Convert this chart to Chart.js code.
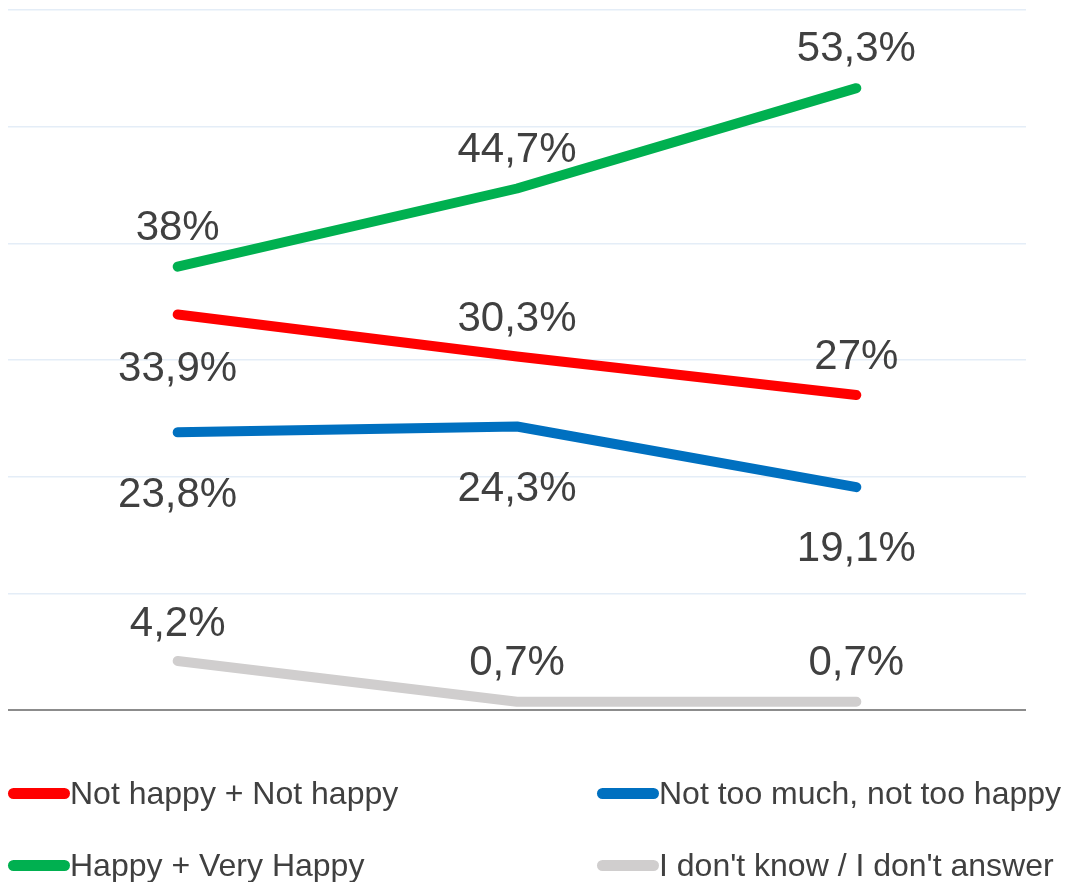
<!DOCTYPE html>
<html>
<head>
<meta charset="utf-8">
<script src="https://cdn.jsdelivr.net/npm/chart.js@4.4.1/dist/chart.umd.min.js"></script>
<style>
  html, body { margin: 0; padding: 0; background: #fff; }
  #wrap { position: relative; width: 1066px; height: 882px; }
  #legend { position: absolute; left: 0; top: 0; width: 1066px; height: 882px; pointer-events: none; }
  .item { position: absolute; display: flex; align-items: center; font-family: "Liberation Sans", Arial, sans-serif; font-size: 32px; color: #404040; white-space: nowrap; }
  .mark { width: 62px; height: 11px; border-radius: 6px; }
</style>
</head>
<body>
<div id="wrap">
  <canvas id="chart" width="1066" height="882"></canvas>
  <div id="legend"></div>
</div>
<script>
// –≤–∏—Ç—Ä–∏–Ω–∞ –¥–∞–Ω–Ω—ã—Ö
const categories = ['1', '2', '3'];
const seriesNames = ['Not happy + Not happy', 'Happy + Very Happy', 'Not too much, not too happy', "I don't know / I don't answer"];
const notHappy = [33.9, 30.3, 27];
const happy = [38, 44.7, 53.3];
const notTooMuch = [23.8, 24.3, 19.1];
const dontKnow = [4.2, 0.7, 0.7];
const yTicks = [0, 10, 20, 30, 40, 50, 60];

const colors = ['#ff0000', '#00b050', '#0070c0', '#d0cece'];
const fmt = v => String(v).replace('.', ',') + '%';

// –ø–æ–¥–ø–∏—Å–∏ –∑–Ω–∞—á–µ–Ω–∏–π
const valueLabels = {
  id: 'valueLabels',
  afterDatasetsDraw(chart) {
    const ctx = chart.ctx;
    ctx.save();
    ctx.font = '42px "Liberation Sans", Arial, sans-serif';
    ctx.fillStyle = '#404040';
    ctx.textAlign = 'center';
    ctx.textBaseline = 'middle';
    chart.data.datasets.forEach((ds, i) => {
      chart.getDatasetMeta(i).data.forEach((pt, j) => {
        ctx.fillText(fmt(ds.data[j]), pt.x, pt.y + ds.labelOffset[j]);
      });
    });
    ctx.restore();
  }
};

const mk = (idx, data, offs) => ({
  label: seriesNames[idx],
  data: data,
  borderColor: colors[idx],
  backgroundColor: colors[idx],
  borderWidth: 10,
  borderCapStyle: 'round',
  borderJoinStyle: 'round',
  pointRadius: 0,
  tension: 0,
  fill: false,
  clip: false,
  labelOffset: offs
});

new Chart(document.getElementById('chart').getContext('2d'), {
  type: 'line',
  data: {
    labels: categories,
    datasets: [
      mk(3, dontKnow, [-37, -38, -38]),
      mk(2, notTooMuch, [63, 63, 62]),
      mk(0, notHappy, [55, -37, -38]),
      mk(1, happy, [-38, -38, -39])
    ]
  },
  options: {
    responsive: false,
    animation: false,
    layout: { padding: { left: 8, right: 40, top: 10, bottom: 172 } },
    plugins: { legend: { display: false }, tooltip: { enabled: false } },
    scales: {
      x: { display: false, offset: true },
      y: {
        min: 0, max: 60,
        afterBuildTicks: axis => { axis.ticks = yTicks.map(v => ({ value: v })); },
        border: { display: false },
        ticks: { display: false },
        grid: {
          drawTicks: false,
          lineWidth: ctx => ctx.tick && ctx.tick.value === 0 ? 2 : 1.5,
          color: ctx => ctx.tick && ctx.tick.value === 0 ? '#8c8c8c' : '#e4edf7'
        }
      }
    }
  },
  plugins: [valueLabels]
});

// –ª–µ–≥–µ–Ω–¥–∞ –≤ –¥–≤–µ –∫–æ–ª–æ–Ω–∫–∏
const legendPos = [[8, 793], [597, 793], [8, 865], [597, 865]];
const legendOrder = [0, 2, 1, 3];
const legend = document.getElementById('legend');
legendOrder.forEach((s, k) => {
  const el = document.createElement('div');
  el.className = 'item';
  el.style.left = legendPos[k][0] + 'px';
  el.style.top = (legendPos[k][1] - 20) + 'px';
  el.style.height = '40px';
  el.innerHTML = `<span class="mark" style="background:${colors[s]}"></span><span>${seriesNames[s]}</span>`;
  legend.appendChild(el);
});
</script>
</body>
</html>
